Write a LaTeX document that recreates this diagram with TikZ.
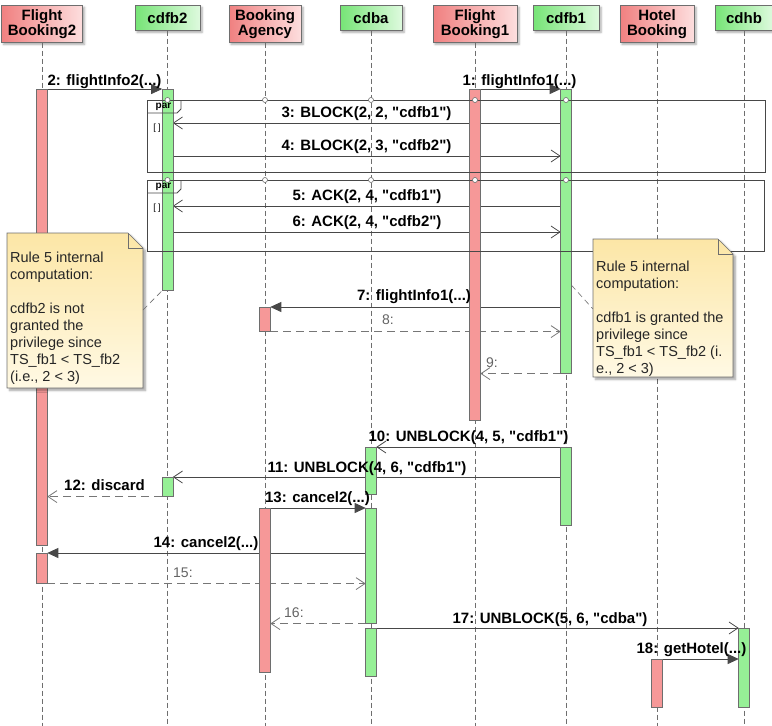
\documentclass[tikz,border=0pt]{standalone}
\usepackage{fontspec}
\setmainfont{Liberation Sans}
\usetikzlibrary{arrows.meta,shadows.blur,calc}

\newcommand\dq{\textquotedbl}

\definecolor{redL}{RGB}{240,128,128}
\definecolor{redR}{RGB}{253,222,222}
\definecolor{grnL}{RGB}{118,228,118}
\definecolor{grnR}{RGB}{222,250,222}
\definecolor{actred}{RGB}{246,152,152}
\definecolor{actgrn}{RGB}{150,240,150}
\definecolor{edgec}{RGB}{110,110,110}
\definecolor{msgc}{RGB}{72,72,72}
\definecolor{retc}{RGB}{118,118,118}
\definecolor{noteT}{RGB}{252,230,166}
\definecolor{noteB}{RGB}{255,249,228}

\tikzset{
  hdr/.style={draw=edgec, line width=0.6pt, align=center,
    font=\bfseries\fontsize{15}{15}\selectfont, inner sep=0pt, anchor=north,
    blur shadow={shadow xshift=2pt,shadow yshift=-2pt,shadow blur steps=4,shadow opacity=35}},
  hdrR/.style={hdr, left color=redL, right color=redR, minimum height=37pt},
  hdrG/.style={hdr, left color=grnL, right color=grnR, minimum height=25pt},
  life/.style={draw=edgec, line width=0.6pt, dash pattern=on 5pt off 3pt},
  act/.style={draw=edgec, line width=0.6pt, minimum width=10pt, inner sep=0pt, anchor=north},
  actR/.style={act, fill=actred},
  actG/.style={act, fill=actgrn},
  sync/.style={draw=msgc, line width=0.8pt, -{Triangle[length=11pt,width=10pt]}},
  async/.style={draw=msgc, line width=0.8pt, -{Straight Barb[length=9pt,width=12pt]}},
  ret/.style={draw=retc, line width=0.8pt, dash pattern=on 8pt off 5pt,
    -{Straight Barb[length=9pt,width=12pt]}},
  lbl/.style={font=\bfseries\fontsize{15}{18}\selectfont, anchor=base, inner sep=0pt},
  num/.style={font=\fontsize{14}{16}\selectfont, anchor=base west, inner sep=0pt, text=retc!85!black},
  frame/.style={draw=msgc, line width=0.8pt},
  gate/.style={circle, draw=edgec, fill=white, line width=0.6pt, minimum size=5pt, inner sep=0pt},
  notebox/.style={draw=edgec, line width=0.6pt, top color=noteT, bottom color=noteB,
    blur shadow={shadow xshift=2.5pt,shadow yshift=-2.5pt,shadow blur steps=5,shadow opacity=35}},
  notetext/.style={font=\fontsize{14.5}{17}\selectfont, align=left, anchor=north west,
    inner sep=0pt, text=black!85},
  link/.style={draw=edgec, line width=0.6pt, dash pattern=on 6pt off 4pt},
  tag/.style={inner sep=0pt, font=\bfseries\fontsize{10}{10}\selectfont},
  guard/.style={inner sep=0pt, font=\fontsize{9}{9}\selectfont}
}

\begin{document}
\begin{tikzpicture}[x=1pt,y=-1pt]
\useasboundingbox (0,0) rectangle (772,726);

% participants
\node[hdrR, minimum width=81pt] (fb2)   at (42,5)    {Flight\\Booking2};
\node[hdrG, minimum width=65pt] (cdfb2) at (167.5,5) {cdfb2};
\node[hdrR, minimum width=72pt] (ba)    at (265,5)   {Booking\\Agency};
\node[hdrG, minimum width=62pt] (cdba)  at (371,5)   {cdba};
\node[hdrR, minimum width=84pt] (fb1)   at (475,5)   {Flight\\Booking1};
\node[hdrG, minimum width=66pt] (cdfb1) at (566,5)   {cdfb1};
\node[hdrR, minimum width=74pt] (hb)    at (657,5)   {Hotel\\Booking};
\node[hdrG, minimum width=58pt] (cdhb)  at (744,5)   {cdhb};

% lifelines
\foreach \p in {fb2,cdfb2,ba,cdba,fb1,cdfb1,hb,cdhb}
  \draw[life] (\p.south) -- (\p.south |- 0,726);

% activation bars (named; drawn after the messages below)
\path
  node[actR, minimum height=456pt] (fb2a1)   at (42,89)    {}
  node[actR, minimum height=30pt]  (fb2a2)   at (42,553)   {}
  node[actG, minimum height=201pt] (cdfb2a1) at (167.5,89) {}
  node[actG, minimum height=19pt]  (cdfb2a2) at (167.5,477){}
  node[actR, minimum height=24pt]  (baa1)    at (265,307)  {}
  node[actR, minimum height=164pt] (baa2)    at (265,508)  {}
  node[actG, minimum height=47pt]  (cdbaa1)  at (371,447)  {}
  node[actG, minimum height=115pt] (cdbaa2)  at (371,508)  {}
  node[actG, minimum height=48pt]  (cdbaa3)  at (371,628)  {}
  node[actR, minimum height=331pt] (fb1a)    at (475,89)   {}
  node[actG, minimum height=284pt] (cdfb1a1) at (566,89)   {}
  node[actG, minimum height=78pt]  (cdfb1a2) at (566,447)  {}
  node[actR, minimum height=48pt]  (hba)     at (657,659)  {}
  node[actG, minimum height=79pt]  (cdhba)   at (744,628)  {};

% messages
\draw[sync]  (fb1a.north east) -- (cdfb1a1.north west);
\draw[sync]  (fb2a1.north east) -- (cdfb2a1.north west);
\draw[async] (cdfb1a1.west |- 0,123) -- (cdfb2a1.east |- 0,123);
\draw[async] (cdfb2a1.east |- 0,156) -- (cdfb1a1.west |- 0,156);
\draw[async] (cdfb1a1.west |- 0,206) -- (cdfb2a1.east |- 0,206);
\draw[async] (cdfb2a1.east |- 0,232) -- (cdfb1a1.west |- 0,232);
\draw[sync]  (cdfb1a1.west |- baa1.north) -- (baa1.north east);
\draw[ret]   (baa1.south east) -- (cdfb1a1.west |- baa1.south);
\draw[ret]   (cdfb1a1.south west) -- (fb1a.east |- cdfb1a1.south);
\draw[async] (cdfb1a2.north west) -- (cdbaa1.north east);
\draw[async] (cdfb1a2.west |- cdfb2a2.north) -- (cdfb2a2.north east);
\draw[ret]   (cdfb2a2.south west) -- (fb2a1.east |- cdfb2a2.south);
\draw[sync]  (baa2.north east) -- (cdbaa2.north west);
\draw[sync]  (cdbaa2.west |- fb2a2.north) -- (fb2a2.north east);
\draw[ret]   (fb2a2.south east) -- (cdbaa2.west |- fb2a2.south);
\draw[ret]   (cdbaa2.south west) -- (baa2.east |- cdbaa2.south);
\draw[async] (cdbaa3.north east) -- (cdhba.north west);
\draw[sync]  (hba.north east) -- (cdhba.west |- hba.north);

% redraw bars on top of the message lines
\foreach \a/\c in {fb2a1/actred,fb2a2/actred,cdfb2a1/actgrn,cdfb2a2/actgrn,baa1/actred,
  baa2/actred,cdbaa1/actgrn,cdbaa2/actgrn,cdbaa3/actgrn,fb1a/actred,cdfb1a1/actgrn,
  cdfb1a2/actgrn,hba/actred,cdhba/actgrn}
  \draw[draw=edgec, line width=0.6pt, fill=\c] (\a.north west) rectangle (\a.south east);

% par fragments
\draw[frame] (147,100) rectangle (765,172);
\draw[frame] (147,113) -- (177,113) -- (181,109) -- (181,100);
\node[tag] (par1) at (163.5,106.5) {par};
\node[guard] (g1) at (157,128) {[ ]};
\draw[frame] (147,180) rectangle (764,251);
\draw[frame] (147,193) -- (177,193) -- (181,189) -- (181,180);
\node[tag] (par2) at (163.5,186.5) {par};
\node[guard] (g2) at (157,208) {[ ]};

\foreach \x [count=\i] in {167.5,265,371,475,566} {
  \node[gate] (gt\i) at (\x,100) {};
  \node[gate] (gb\i) at (\x,180) {};
}

% message labels
\node[lbl] (l1)  at (519.5,85) {1: flightInfo1(...)};
\node[lbl] (l2)  at (104.5,85) {2: flightInfo2(...)};
\node[lbl] (l3)  at (366.5,117) {3: BLOCK(2, 2, \dq cdfb1\dq)};
\node[lbl] (l4)  at (366.5,150) {4: BLOCK(2, 3, \dq cdfb2\dq)};
\node[lbl] (l5)  at (367,200) {5: ACK(2, 4, \dq cdfb1\dq)};
\node[lbl] (l6)  at (367,226) {6: ACK(2, 4, \dq cdfb2\dq)};
\node[lbl] (l7)  at (414,300) {7: flightInfo1(...)};
\node[num] (l8)  at (382,324) {8:};
\node[num] (l9)  at (486,367) {9:};
\node[lbl] (l10) at (468.5,441) {10: UNBLOCK(4, 5, \dq cdfb1\dq)};
\node[lbl] (l11) at (367,472) {11: UNBLOCK(4, 6, \dq cdfb1\dq)};
\node[lbl] (l12) at (104.5,490) {12: discard};
\node[lbl] (l13) at (317.5,502) {13: cancel2(...)};
\node[lbl] (l14) at (206,547) {14: cancel2(...)};
\node[num] (l15) at (173,577) {15:};
\node[num] (l16) at (284,617) {16:};
\node[lbl] (l17) at (550,623) {17: UNBLOCK(5, 6, \dq cdba\dq)};
\node[lbl] (l18) at (691.5,653) {18: getHotel(...)};

% notes
\path[notebox] (7,233) -- (128,233) -- (143,248) -- (143,388) -- (7,388) -- cycle;
\draw[draw=edgec, line width=0.6pt] (128,233) -- (128,248) -- (143,248);
\node[notetext] (n1) at (10,252) {Rule 5 internal\\computation:\\\mbox{}\\cdfb2 is not\\granted the\\privilege since\\TS\_fb1 < TS\_fb2\\(i.e., 2 < 3)};
\coordinate (n1c) at (143,310);
\draw[link] (n1c) -- (cdfb2a1.south west);

\path[notebox] (593,239) -- (718,239) -- (733,254) -- (733,377) -- (593,377) -- cycle;
\draw[draw=edgec, line width=0.6pt] (718,239) -- (718,254) -- (733,254);
\node[notetext] (n2) at (596,261) {Rule 5 internal\\computation:\\\mbox{}\\cdfb1 is granted the\\privilege since\\TS\_fb1 < TS\_fb2 (i.\\e., 2 < 3)};
\coordinate (n2c) at (593,309);
\draw[link] (cdfb1a1.east |- 0,285) -- (n2c);
\end{tikzpicture}
\end{document}
